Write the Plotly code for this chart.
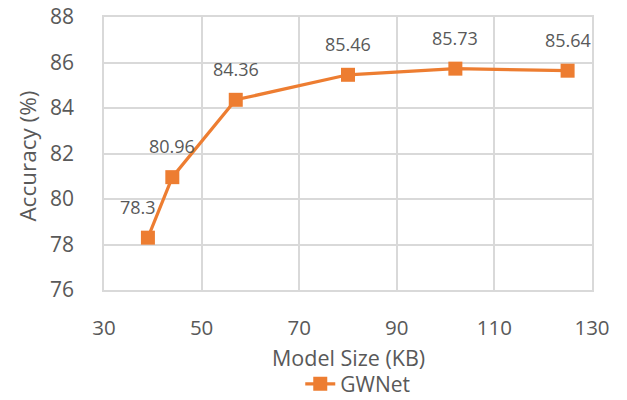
import plotly.graph_objects as go

model_size_kb = [39, 44, 57, 80, 102, 125]
accuracy = [78.3, 80.96, 84.36, 85.46, 85.73, 85.64]
label_text = ["78.3", "80.96", "84.36", "85.46", "85.73", "85.64"]
x_ticks = [30, 50, 70, 90, 110, 130]
y_ticks = [76, 78, 80, 82, 84, 86, 88]

ORANGE = "#ED7D31"
GRID = "#D9D9D9"
TXT = "#595959"
FONT = "Open Sans"

fig = go.Figure()
fig.add_trace(go.Scatter(
    x=model_size_kb, y=accuracy, mode="lines+markers", name="GWNet",
    line=dict(color=ORANGE, width=3.2),
    marker=dict(symbol="square", size=14, color=ORANGE),
))

for i, (xv, yv, t) in enumerate(zip(model_size_kb, accuracy, label_text)):
    fig.add_annotation(x=xv, y=yv, text=t, showarrow=False,
                       xshift=-10 if i == 0 else 0, yshift=31,
                       font=dict(family=FONT, size=18, color=TXT))

fig.add_annotation(x=0.5, y=-0.247, xref="paper", yref="paper", text="Model Size (KB)",
                   showarrow=False, xanchor="center", yanchor="middle",
                   font=dict(family=FONT, size=21.5, color=TXT))
fig.add_annotation(x=-0.157, y=0.49, xref="paper", yref="paper", text="Accuracy (%)",
                   showarrow=False, xanchor="center", yanchor="middle", textangle=-90,
                   font=dict(family=FONT, size=22.5, color=TXT))

fig.update_layout(
    width=627, height=400,
    margin=dict(l=104, r=35, t=17, b=110, autoexpand=False),
    paper_bgcolor="white", plot_bgcolor="white",
    font=dict(family=FONT, color=TXT),
    showlegend=True,
    legend=dict(orientation="h", x=0.52, xanchor="center", y=-0.345, yanchor="middle",
                font=dict(family=FONT, size=21, color=TXT)),
)
fig.update_xaxes(
    range=[30, 130], tickvals=x_ticks, showgrid=True, gridcolor=GRID, gridwidth=1.5,
    showline=True, linecolor=GRID, linewidth=1.5, mirror=True, zeroline=False,
    tickfont=dict(family=FONT, size=20.5, color=TXT), ticklabelstandoff=19, automargin=False,
)
fig.update_yaxes(
    range=[76, 88], tickvals=y_ticks, showgrid=True, gridcolor=GRID, gridwidth=1.5,
    showline=True, linecolor=GRID, linewidth=1.5, mirror=True, zeroline=False,
    tickfont=dict(family=FONT, size=21, color=TXT), ticklabelstandoff=24, automargin=False,
)

fig.write_html("out.html", config={"displayModeBar": False},
               post_script="document.body.style.margin='0';")
